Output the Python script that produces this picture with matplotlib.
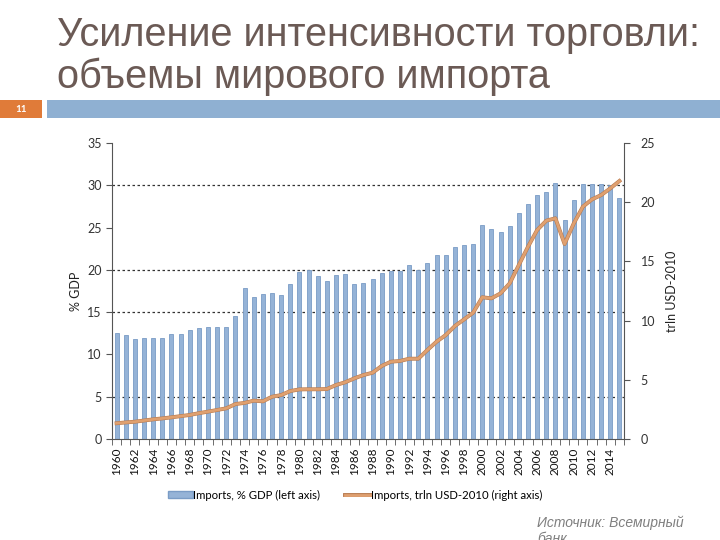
import matplotlib
matplotlib.use("Agg")
import matplotlib.pyplot as plt
import matplotlib.patheffects as pe
from matplotlib.patches import Rectangle
from matplotlib.lines import Line2D
from matplotlib.patches import Patch
import numpy as np

years = list(range(1960, 2016))
imports_gdp = [12.5, 12.3, 11.8, 12.0, 11.9, 12.0, 12.4, 12.4, 12.9, 13.1,
               13.3, 13.2, 13.2, 14.5, 17.9, 16.8, 17.1, 17.3, 17.0, 18.3,
               19.7, 20.0, 19.3, 18.7, 19.4, 19.5, 18.3, 18.4, 18.9, 19.6,
               19.9, 19.9, 20.6, 20.0, 20.8, 21.8, 21.8, 22.7, 22.9, 23.1,
               25.3, 24.8, 24.5, 25.2, 26.7, 27.8, 28.9, 29.2, 30.3, 25.9,
               28.3, 30.2, 30.2, 30.1, 30.0, 28.5]
imports_trln = [1.33, 1.40, 1.46, 1.56, 1.66, 1.74, 1.83, 1.93, 2.03, 2.18,
                2.31, 2.45, 2.59, 2.95, 3.05, 3.24, 3.18, 3.57, 3.71, 4.05,
                4.19, 4.20, 4.20, 4.22, 4.56, 4.79, 5.12, 5.40, 5.60, 6.17,
                6.53, 6.59, 6.78, 6.78, 7.52, 8.22, 8.78, 9.54, 10.10, 10.67,
                11.97, 11.88, 12.30, 13.15, 14.70, 16.24, 17.65, 18.44, 18.64, 16.47,
                18.20, 19.62, 20.24, 20.60, 21.17, 21.79]
left_ticks = [0, 5, 10, 15, 20, 25, 30, 35]
right_ticks = [0, 5, 10, 15, 20, 25]
grid_levels = [5, 15, 20, 30]
tick_years = list(range(1960, 2015, 2))

title_lines = ["Усиление интенсивности торговли:", "объемы мирового импорта"]
slide_no = "11"
source_lines = ["Источник: Всемирный", "банк"]
leg_bar = "Imports, % GDP (left axis)"
leg_line = "Imports, trln USD-2010 (right axis)"

plt.rcParams['font.family'] = ['Lato', 'DejaVu Sans']

fig = plt.figure(figsize=(7.2, 5.4), dpi=100)

# header
title_font = ['Liberation Sans Narrow', 'Liberation Sans', 'DejaVu Sans']
fig.text(57/720, 1 - 46/540, title_lines[0], fontsize=28.5, color='#6B5A55',
         family=title_font, va='baseline', ha='left')
fig.text(57/720, 1 - 88/540, title_lines[1], fontsize=28.5, color='#6B5A55',
         family=title_font, va='baseline', ha='left')
fig.add_artist(Rectangle((0, 1 - 118/540), 42/720, 18/540, transform=fig.transFigure,
                         facecolor='#E07B39', edgecolor='none'))
fig.text(21/720, 1 - 109/540, slide_no, fontsize=7, color='white', ha='center', va='center',
         fontweight='bold')
fig.add_artist(Rectangle((47/720, 1 - 118/540), 673/720, 18/540, transform=fig.transFigure,
                         facecolor='#8FB0D2', edgecolor='none'))

ax = fig.add_axes([112/720, 1 - 439/540, 512/720, 296/540])
x = np.arange(len(years))
ax.bar(x, imports_gdp, width=0.45, color='#95B3D7', edgecolor='#7A9CC6', linewidth=0.6, zorder=2)
for g in grid_levels:
    ax.axhline(g, color='#333333', linestyle=(0, (2, 2)), linewidth=0.9, zorder=1)
ax.set_xlim(-0.5, len(years) - 0.5)
ax.set_ylim(0, 35)
ax.set_yticks(left_ticks)
ax.set_yticklabels([str(t) for t in left_ticks], fontsize=9, color='#333333')
ax.set_xticks([years.index(y) for y in tick_years])
ax.set_xticklabels([str(y) for y in tick_years], rotation=90, fontsize=8.5, color='#111111')
ax.set_xticks(np.arange(-0.5, len(years), 1), minor=True)
ax.tick_params(axis='x', which='major', length=0, pad=6)
ax.tick_params(axis='x', which='minor', length=4, color='#555555')
ax.tick_params(axis='y', length=4, color='#555555')
ax.set_ylabel("% GDP", fontsize=9, color='#222222', labelpad=4)
ax.spines['top'].set_visible(False)
ax.spines['left'].set_color('#555555')
ax.spines['bottom'].set_color('#555555')
ax.spines['right'].set_visible(False)

ax2 = ax.twinx()
ax2.plot(x, imports_trln, color='#DFA070', linewidth=2.0, zorder=3,
         path_effects=[pe.Stroke(linewidth=2.8, foreground='#B87A4F'), pe.Normal()])
ax2.set_ylim(0, 25)
ax2.set_yticks(right_ticks)
ax2.set_yticklabels([str(t) for t in right_ticks], fontsize=9, color='#333333')
ax2.tick_params(axis='y', length=4, color='#555555', pad=8)
ax2.set_ylabel("trln USD-2010", fontsize=9, color='#222222', labelpad=8)
ax2.spines['top'].set_visible(False)
ax2.spines['left'].set_visible(False)
ax2.spines['bottom'].set_visible(False)
ax2.spines['right'].set_color('#555555')

handles = [Patch(facecolor='#95B3D7', edgecolor='#7A9CC6'),
           Line2D([0], [0], color='#DFA070', linewidth=2,
                  path_effects=[pe.Stroke(linewidth=2.8, foreground='#B87A4F'), pe.Normal()])]
fig.legend(handles, [leg_bar, leg_line], loc='center', bbox_to_anchor=(355/720, 1 - 495/540),
           ncol=2, frameon=False, fontsize=8.2, handlelength=2.2, handleheight=0.6,
           handletextpad=0.05, columnspacing=2.2)

src_font = ['Liberation Sans', 'DejaVu Sans']
fig.text(537/720, 1 - 527/540, source_lines[0], fontsize=10, color='#7F7F7F', style='italic',
         ha='left', va='baseline', family=src_font)
fig.text(537/720, 1 - 543/540, source_lines[1], fontsize=10, color='#7F7F7F', style='italic',
         ha='left', va='baseline', family=src_font)

fig.savefig("out.png", dpi=100)
